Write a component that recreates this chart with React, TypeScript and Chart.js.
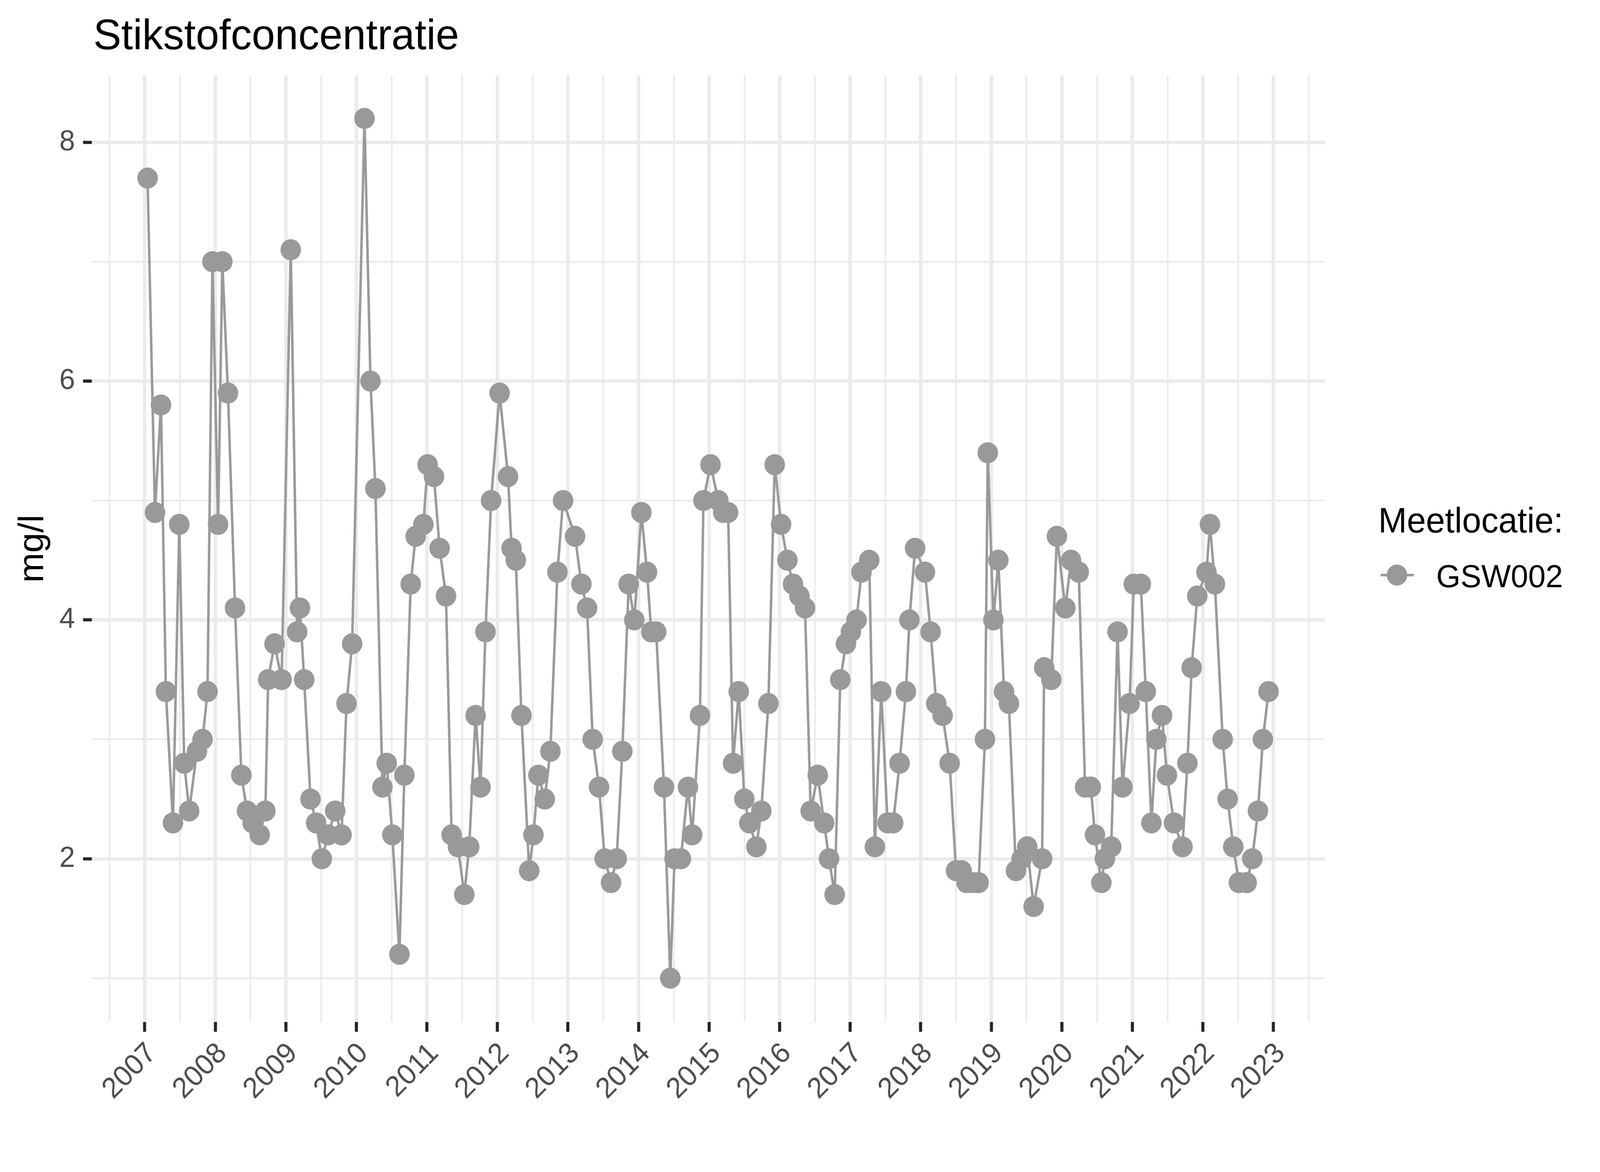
import React, { useEffect, useRef } from "react";
import { Chart, registerables } from "chart.js";

Chart.register(...registerables);

const TITLE = "Stikstofconcentratie";
const Y_TITLE = "mg/l";
const LEGEND_TITLE = "Meetlocatie:";
const SERIES_NAME = "GSW002";

// sample moments as decimal years
const SAMPLE_YEARS = [
  2007.04, 2007.145, 2007.23, 2007.30, 2007.40, 2007.49, 2007.56, 2007.63, 2007.74, 2007.82, 2007.89, 2007.96,
  2008.04, 2008.10, 2008.18, 2008.28, 2008.37, 2008.45, 2008.53, 2008.63, 2008.71, 2008.75, 2008.84, 2008.94,
  2009.07, 2009.16, 2009.20, 2009.26, 2009.35, 2009.43, 2009.51, 2009.60, 2009.70, 2009.79, 2009.86, 2009.94,
  2010.115, 2010.20, 2010.27, 2010.37, 2010.43, 2010.51, 2010.61, 2010.68, 2010.77, 2010.84, 2010.95,
  2011.01, 2011.10, 2011.18, 2011.27, 2011.35, 2011.44, 2011.53, 2011.60, 2011.69, 2011.76, 2011.83, 2011.91,
  2012.03, 2012.15, 2012.20, 2012.26, 2012.34, 2012.45, 2012.51, 2012.58, 2012.67, 2012.75, 2012.85, 2012.93,
  2013.10, 2013.19, 2013.27, 2013.35, 2013.44, 2013.52, 2013.61, 2013.69, 2013.77, 2013.86, 2013.94,
  2014.04, 2014.12, 2014.18, 2014.25, 2014.36, 2014.45, 2014.51, 2014.60, 2014.70, 2014.76, 2014.87, 2014.92,
  2015.02, 2015.13, 2015.20, 2015.27, 2015.34, 2015.42, 2015.50, 2015.57, 2015.67, 2015.74, 2015.84, 2015.93,
  2016.02, 2016.11, 2016.19, 2016.28, 2016.36, 2016.44, 2016.54, 2016.63, 2016.70, 2016.78, 2016.86, 2016.94,
  2017.01, 2017.09, 2017.16, 2017.27, 2017.35, 2017.44, 2017.53, 2017.61, 2017.70, 2017.79, 2017.84, 2017.92,
  2018.06, 2018.14, 2018.22, 2018.31, 2018.41, 2018.50, 2018.58, 2018.65, 2018.74, 2018.82, 2018.91, 2018.95,
  2019.03, 2019.10, 2019.18, 2019.25, 2019.35, 2019.43, 2019.51, 2019.60, 2019.72, 2019.75, 2019.85, 2019.93,
  2020.05, 2020.13, 2020.24, 2020.33, 2020.41, 2020.47, 2020.56, 2020.61, 2020.70, 2020.79, 2020.86, 2020.96,
  2021.02, 2021.12, 2021.19, 2021.27, 2021.34, 2021.42, 2021.49, 2021.59, 2021.71, 2021.78, 2021.84, 2021.92,
  2022.05, 2022.10, 2022.17, 2022.28, 2022.35, 2022.43, 2022.51, 2022.62, 2022.70, 2022.78, 2022.85, 2022.93,
];

// nitrogen concentration (mg/l) at GSW002
const GSW002_VALUES = [
  7.7, 4.9, 5.8, 3.4, 2.3, 4.8, 2.8, 2.4, 2.9, 3.0, 3.4, 7.0,
  4.8, 7.0, 5.9, 4.1, 2.7, 2.4, 2.3, 2.2, 2.4, 3.5, 3.8, 3.5,
  7.1, 3.9, 4.1, 3.5, 2.5, 2.3, 2.0, 2.2, 2.4, 2.2, 3.3, 3.8,
  8.2, 6.0, 5.1, 2.6, 2.8, 2.2, 1.2, 2.7, 4.3, 4.7, 4.8,
  5.3, 5.2, 4.6, 4.2, 2.2, 2.1, 1.7, 2.1, 3.2, 2.6, 3.9, 5.0,
  5.9, 5.2, 4.6, 4.5, 3.2, 1.9, 2.2, 2.7, 2.5, 2.9, 4.4, 5.0,
  4.7, 4.3, 4.1, 3.0, 2.6, 2.0, 1.8, 2.0, 2.9, 4.3, 4.0,
  4.9, 4.4, 3.9, 3.9, 2.6, 1.0, 2.0, 2.0, 2.6, 2.2, 3.2, 5.0,
  5.3, 5.0, 4.9, 4.9, 2.8, 3.4, 2.5, 2.3, 2.1, 2.4, 3.3, 5.3,
  4.8, 4.5, 4.3, 4.2, 4.1, 2.4, 2.7, 2.3, 2.0, 1.7, 3.5, 3.8,
  3.9, 4.0, 4.4, 4.5, 2.1, 3.4, 2.3, 2.3, 2.8, 3.4, 4.0, 4.6,
  4.4, 3.9, 3.3, 3.2, 2.8, 1.9, 1.9, 1.8, 1.8, 1.8, 3.0, 5.4,
  4.0, 4.5, 3.4, 3.3, 1.9, 2.0, 2.1, 1.6, 2.0, 3.6, 3.5, 4.7,
  4.1, 4.5, 4.4, 2.6, 2.6, 2.2, 1.8, 2.0, 2.1, 3.9, 2.6, 3.3,
  4.3, 4.3, 3.4, 2.3, 3.0, 3.2, 2.7, 2.3, 2.1, 2.8, 3.6, 4.2,
  4.4, 4.8, 4.3, 3.0, 2.5, 2.1, 1.8, 1.8, 2.0, 2.4, 3.0, 3.4,
];

const X_MAJOR_TICKS = [2007, 2008, 2009, 2010, 2011, 2012, 2013, 2014, 2015, 2016, 2017, 2018, 2019, 2020, 2021, 2022, 2023];
const X_MINOR_TICKS = [2006.5, 2007.5, 2008.5, 2009.5, 2010.5, 2011.5, 2012.5, 2013.5, 2014.5, 2015.5, 2016.5, 2017.5, 2018.5, 2019.5, 2020.5, 2021.5, 2022.5, 2023.5];
const Y_MAJOR_TICKS = [2, 4, 6, 8];
const Y_MINOR_TICKS = [1, 3, 5, 7];
const X_RANGE = [2006.25, 2023.73];
const Y_RANGE = [0.633, 8.56];

const FONT = '"Liberation Sans", Arial, Helvetica, sans-serif';
const SERIES_COLOR = "#999999";
const GRID_COLOR = "#EBEBEB";
const TICK_COLOR = "#222222";
const LABEL_COLOR = "#4D4D4D";

const isIn = (arr: number[], v: number) => arr.some((a) => Math.abs(a - v) < 1e-6);

const decorations = {
  id: "decorations",
  afterDraw(chart: any) {
    const ctx = chart.ctx as CanvasRenderingContext2D;
    const area = chart.chartArea;
    ctx.save();
    ctx.fillStyle = "#000000";
    ctx.textAlign = "left";
    ctx.textBaseline = "alphabetic";
    ctx.font = `110px ${FONT}`;
    ctx.fillText(TITLE, area.left + 4, 126);

    ctx.save();
    ctx.translate(113, (area.top + area.bottom) / 2);
    ctx.rotate(-Math.PI / 2);
    ctx.textAlign = "center";
    ctx.font = `92px ${FONT}`;
    ctx.fillText(Y_TITLE, 0, 0);
    ctx.restore();

    // legend
    ctx.font = `90px ${FONT}`;
    ctx.fillText(LEGEND_TITLE, 3618, 1363);
    ctx.strokeStyle = SERIES_COLOR;
    ctx.lineWidth = 6.5;
    ctx.beginPath();
    ctx.moveTo(3624, 1472);
    ctx.lineTo(3711, 1472);
    ctx.stroke();
    ctx.fillStyle = SERIES_COLOR;
    ctx.beginPath();
    ctx.arc(3667, 1472, 27, 0, Math.PI * 2);
    ctx.fill();
    ctx.fillStyle = "#000000";
    ctx.font = `82px ${FONT}`;
    ctx.fillText(SERIES_NAME, 3770, 1503);
    ctx.restore();
  },
};

export default function App() {
  const canvasRef = useRef<HTMLCanvasElement | null>(null);
  const viewW = typeof window !== "undefined" && window.innerWidth > 0 ? window.innerWidth : 4200;
  const viewH = typeof window !== "undefined" && window.innerHeight > 0 ? window.innerHeight : 3000;

  useEffect(() => {
    document.body.style.margin = "0";
    document.body.style.overflow = "hidden";
    const canvas = canvasRef.current;
    if (!canvas) return;
    const points = SAMPLE_YEARS.map((x, i) => ({ x, y: GSW002_VALUES[i] }));
    const xTicks = [...X_MINOR_TICKS, ...X_MAJOR_TICKS].sort((a, b) => a - b);
    const yTicks = [...Y_MINOR_TICKS, ...Y_MAJOR_TICKS].sort((a, b) => a - b);

    const chart = new Chart(canvas, {
      type: "line",
      data: {
        datasets: [
          {
            label: SERIES_NAME,
            data: points,
            borderColor: SERIES_COLOR,
            backgroundColor: SERIES_COLOR,
            borderWidth: 6.5,
            pointRadius: 27,
            pointBorderWidth: 0,
            pointBackgroundColor: SERIES_COLOR,
            pointHoverRadius: 27,
            tension: 0,
            fill: false,
          },
        ],
      },
      options: {
        animation: false,
        responsive: false,
        devicePixelRatio: 1,
        events: [],
        layout: { padding: { top: 193, right: 722, left: 0, bottom: 0 } },
        plugins: {
          legend: { display: false },
          title: { display: false },
          tooltip: { enabled: false },
        },
        scales: {
          x: {
            type: "linear",
            min: X_RANGE[0],
            max: X_RANGE[1],
            afterFit: (scale: any) => {
              scale.height = 384;
            },
            afterBuildTicks: (scale: any) => {
              scale.ticks = xTicks.map((v) => ({ value: v }));
            },
            border: { display: false },
            grid: {
              color: GRID_COLOR,
              lineWidth: (ctx: any) => (isIn(X_MAJOR_TICKS, ctx.tick?.value) ? 9 : 4.5),
              drawTicks: true,
              tickLength: 25,
              tickWidth: 8,
              tickColor: (ctx: any) => (isIn(X_MAJOR_TICKS, ctx.tick?.value) ? TICK_COLOR : "rgba(0,0,0,0)"),
            },
            ticks: {
              autoSkip: false,
              maxRotation: 45,
              minRotation: 45,
              padding: 12,
              labelOffset: 19,
              color: LABEL_COLOR,
              font: { family: FONT, size: 74 },
              callback: (v: any) => (isIn(X_MAJOR_TICKS, Number(v)) ? String(v) : ""),
            },
          },
          y: {
            type: "linear",
            min: Y_RANGE[0],
            max: Y_RANGE[1],
            afterFit: (scale: any) => {
              scale.width = 241;
            },
            afterBuildTicks: (scale: any) => {
              scale.ticks = yTicks.map((v) => ({ value: v }));
            },
            border: { display: false },
            grid: {
              color: GRID_COLOR,
              lineWidth: (ctx: any) => (isIn(Y_MAJOR_TICKS, ctx.tick?.value) ? 9 : 4.5),
              drawTicks: true,
              tickLength: 23,
              tickWidth: 8,
              tickColor: (ctx: any) => (isIn(Y_MAJOR_TICKS, ctx.tick?.value) ? TICK_COLOR : "rgba(0,0,0,0)"),
            },
            ticks: {
              autoSkip: false,
              padding: 21,
              color: LABEL_COLOR,
              font: { family: FONT, size: 74 },
              callback: (v: any) => (isIn(Y_MAJOR_TICKS, Number(v)) ? String(v) : ""),
            },
          },
        },
      },
      plugins: [decorations],
    });

    return () => chart.destroy();
  }, []);

  return (
    <div style={{ position: "relative", width: viewW, height: viewH, background: "#ffffff", overflow: "hidden" }}>
      <canvas ref={canvasRef} width={4200} height={3000} style={{ display: "block", width: viewW, height: viewH }} />
    </div>
  );
}
